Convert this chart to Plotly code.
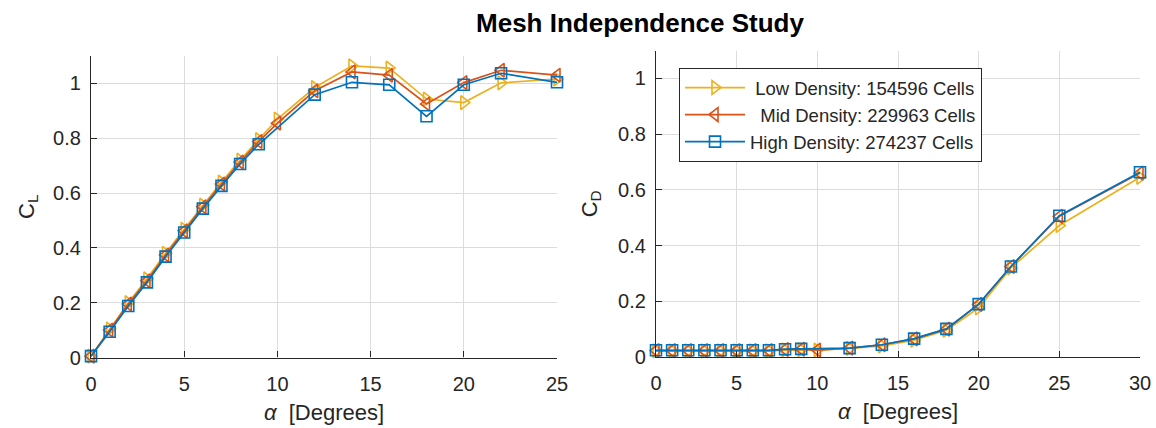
import plotly.graph_objects as go

# Angle of attack stations for each mesh
alpha_low = [0, 1, 2, 3, 4, 5, 6, 7, 8, 9, 10, 12, 14, 16, 18, 20, 22, 25]
alpha_mid = [0, 1, 2, 3, 4, 5, 6, 7, 8, 9, 10, 12, 14, 16, 18, 20, 22, 25]
alpha_high = [0, 1, 2, 3, 4, 5, 6, 7, 8, 9, 12, 14, 16, 18, 20, 22, 25]

# Lift coefficient
cl_low = [0.005, 0.104, 0.200, 0.287, 0.380, 0.468, 0.556, 0.640, 0.720, 0.795,
          0.870, 0.985, 1.064, 1.056, 0.943, 0.930, 1.002, 1.016]
cl_mid = [0.005, 0.100, 0.195, 0.280, 0.374, 0.462, 0.550, 0.633, 0.713, 0.788,
          0.855, 0.973, 1.042, 1.030, 0.925, 1.003, 1.048, 1.030]
cl_high = [0.005, 0.094, 0.188, 0.274, 0.368, 0.456, 0.543, 0.626, 0.706, 0.778,
           0.959, 1.004, 0.995, 0.880, 0.995, 1.037, 1.004]

# Drag coefficient
alpha_d_low = [0, 1, 2, 3, 4, 5, 6, 7, 8, 9, 10, 12, 14, 16, 18, 20, 22, 25, 30]
alpha_d_mid = [0, 1, 2, 3, 4, 5, 6, 7, 8, 9, 10, 12, 14, 16, 18, 20, 22, 25, 30]
alpha_d_high = [0, 1, 2, 3, 4, 5, 6, 7, 8, 9, 12, 14, 16, 18, 20, 22, 25, 30]

cd_low = [0.022, 0.022, 0.022, 0.022, 0.022, 0.022, 0.022, 0.022, 0.025, 0.026,
          0.025, 0.031, 0.040, 0.060, 0.096, 0.176, 0.320, 0.472, 0.645]
cd_mid = [0.023, 0.023, 0.023, 0.023, 0.023, 0.023, 0.023, 0.023, 0.027, 0.028,
          0.025, 0.032, 0.044, 0.065, 0.100, 0.189, 0.325, 0.505, 0.660]
cd_high = [0.024, 0.024, 0.024, 0.024, 0.024, 0.024, 0.024, 0.024, 0.028, 0.029,
           0.032, 0.044, 0.066, 0.101, 0.190, 0.325, 0.507, 0.663]

# Legend labels (non-breaking spaces keep the text flush right)
names = ["\u00a0Low Density: 154596 Cells",
         "\u00a0\u00a0Mid Density: 229963 Cells",
         "High Density: 274237 Cells"]

colors = ["#EDB120", "#D95319", "#0072BD"]
symbols = ["triangle-right-open", "triangle-left-open", "square-open"]
msizes = [12, 12, 11]

font_family = "Liberation Sans, Arial, Helvetica, sans-serif"
ink = "#262626"
grid = "#dcdcdc"

fig = go.Figure()

cl_sets = [(alpha_low, cl_low), (alpha_mid, cl_mid), (alpha_high, cl_high)]
cd_sets = [(alpha_d_low, cd_low), (alpha_d_mid, cd_mid), (alpha_d_high, cd_high)]

for i, (x, y) in enumerate(cl_sets):
    fig.add_trace(go.Scatter(
        x=x, y=y, mode="lines+markers", name=names[i],
        line=dict(color=colors[i], width=1.7),
        marker=dict(symbol=symbols[i], size=msizes[i], color=colors[i],
                    line=dict(width=1.6, color=colors[i])),
        cliponaxis=False, xaxis="x", yaxis="y", showlegend=True,
        legendgroup=str(i)))

for i, (x, y) in enumerate(cd_sets):
    fig.add_trace(go.Scatter(
        x=x, y=y, mode="lines+markers", name=names[i],
        line=dict(color=colors[i], width=1.7),
        marker=dict(symbol=symbols[i], size=msizes[i], color=colors[i],
                    line=dict(width=1.6, color=colors[i])),
        cliponaxis=False, xaxis="x2", yaxis="y2", showlegend=False,
        legendgroup=str(i)))

W, H = 1156, 428


def px_x(p):
    return p / W


def px_y(p):
    return 1 - p / H


axis_common = dict(
    showline=True, linecolor=ink, linewidth=1.3, mirror=False,
    ticks="inside", ticklen=6, tickwidth=1.2, tickcolor=ink,
    showgrid=True, gridcolor=grid, gridwidth=1, zeroline=False,
    automargin=False,
    tickfont=dict(family=font_family, size=20, color=ink),
)

fig.update_layout(
    width=W, height=H, autosize=False,
    margin=dict(l=0, r=0, t=0, b=0),
    paper_bgcolor="white", plot_bgcolor="white",
    font=dict(family=font_family, color=ink),
    xaxis=dict(domain=[px_x(91), px_x(557)], range=[0, 25], tickvals=[0, 5, 10, 15, 20, 25],
               anchor="y", ticklabelstandoff=8,
               title=dict(text="<i>α</i>  [Degrees]", font=dict(size=22, color=ink), standoff=10),
               **axis_common),
    yaxis=dict(domain=[px_y(357.5), px_y(56)], range=[0, 1.1],
               tickvals=[0, 0.2, 0.4, 0.6, 0.8, 1], ticktext=["0", "0.2", "0.4", "0.6", "0.8", "1"],
               anchor="x", ticklabelstandoff=5,
               title=dict(text="C<sub>L</sub>", font=dict(size=22, color=ink), standoff=12),
               **axis_common),
    xaxis2=dict(domain=[px_x(656), px_x(1140)], range=[0, 30], tickvals=[0, 5, 10, 15, 20, 25, 30],
                anchor="y2", ticklabelstandoff=8,
                title=dict(text="<i>α</i>  [Degrees]", font=dict(size=22, color=ink), standoff=10),
                **axis_common),
    yaxis2=dict(domain=[px_y(357), px_y(50.6)], range=[0, 1.1],
                tickvals=[0, 0.2, 0.4, 0.6, 0.8, 1], ticktext=["0", "0.2", "0.4", "0.6", "0.8", "1"],
                anchor="x2", ticklabelstandoff=5,
                title=dict(text="C<sub>D</sub>", font=dict(size=22, color=ink), standoff=14),
                **axis_common),
    legend=dict(x=px_x(679), y=px_y(68), xanchor="left", yanchor="top",
                bgcolor="white", bordercolor=ink, borderwidth=1,
                font=dict(family=font_family, size=18.5, color=ink),
                itemwidth=60, tracegroupgap=0),
    title=dict(text="<b>Mesh Independence Study</b>", x=px_x(640), xanchor="center",
               y=px_y(23), yanchor="middle", automargin=False,
               font=dict(family=font_family, size=26, color="black")),
    showlegend=True,
)

fig.write_html("out.html")
